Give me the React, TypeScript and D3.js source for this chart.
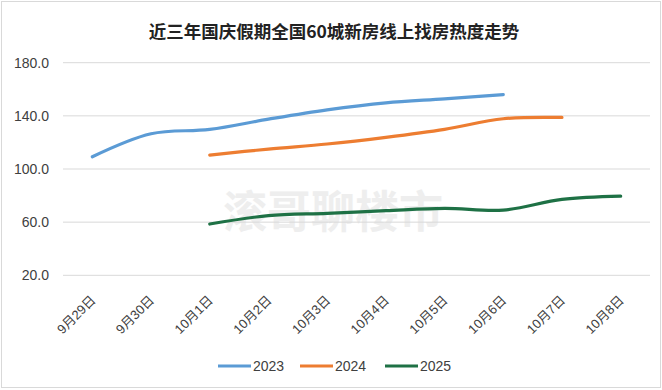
import React from "react";
import * as d3 from "d3";

const title = "近三年国庆假期全国60城新房线上找房热度走势";
const categories = ["9月29日", "9月30日", "10月1日", "10月2日", "10月3日", "10月4日", "10月5日", "10月6日", "10月7日", "10月8日"];
const yTicks = [20, 60, 100, 140, 180];
const seriesNames = ["2023", "2024", "2025"];
const values2023: (number | null)[] = [109.2, 126.5, 129.8, 137.5, 144.5, 149.8, 152.8, 156.0, null, null];
const values2024: (number | null)[] = [null, null, 110.5, 115.0, 118.8, 123.8, 129.8, 137.8, 138.8, null];
const values2025: (number | null)[] = [null, null, 58.6, 64.9, 66.6, 68.6, 70.4, 69.1, 77.1, 79.6];
const colors = ["#5B9BD5", "#ED7D31", "#1E7145"];
const watermark = "滚哥聊楼市";

export default function App() {
  const W = 662, H = 390;
  const x = d3.scaleBand<string>().domain(categories).range([63, 650]);
  const y = d3.scaleLinear().domain([20, 180]).range([275.3, 62.7]);
  const cx = (c: string) => (x(c) as number) + x.bandwidth() / 2;
  const all = [values2023, values2024, values2025];
  const line = d3
    .line<[string, number | null]>()
    .defined((d) => d[1] != null)
    .x((d) => cx(d[0]))
    .y((d) => y(d[1] as number))
    .curve(d3.curveCatmullRom.alpha(0.5));
  const legendX = [218, 300, 385];
  return (
    <svg width={W} height={H} style={{ position: "absolute", left: 0, top: 0, background: "#fff" }}
      fontFamily="'Liberation Sans', 'Noto Sans CJK SC', sans-serif">
      <rect x={1.5} y={1.5} width={W - 3} height={H - 4} fill="#fff" stroke="#d9d9d9" />
      <text x={334} y={38} textAnchor="middle" fontSize={17.5} fontWeight="bold" fill="#222"
        fontFamily="'Noto Sans CJK SC', sans-serif">{title}</text>
      <text x={333} y={228} textAnchor="middle" fontSize={44} fontWeight="bold" fill="#eeeeee"
        letterSpacing={0} fontFamily="'Noto Sans CJK SC', sans-serif">{watermark}</text>
      {yTicks.map((t) => (
        <g key={t}>
          <line x1={63} x2={650} y1={y(t)} y2={y(t)} stroke="#d9d9d9" strokeWidth={1} />
          <text x={49} y={y(t) + 5} textAnchor="end" fontSize={14} fill="#404040">{t.toFixed(1)}</text>
        </g>
      ))}
      {categories.map((c) => (
        <text key={c} transform={`translate(${cx(c) + 4},${301}) rotate(-45)`} textAnchor="end"
          fontSize={13} fill="#404040" fontFamily="'Liberation Sans', 'Noto Sans CJK SC', sans-serif">{c}</text>
      ))}
      {all.map((vals, i) => (
        <path key={i} d={line(categories.map((c, j) => [c, vals[j]])) || ""} fill="none"
          stroke={colors[i]} strokeWidth={3.2} strokeLinecap="round" strokeLinejoin="round" />
      ))}
      {seriesNames.map((s, i) => (
        <g key={s}>
          <line x1={legendX[i]} x2={legendX[i] + 33} y1={366} y2={366} stroke={colors[i]} strokeWidth={3.2} />
          <text x={legendX[i] + 35} y={371} fontSize={14} fill="#404040">{s}</text>
        </g>
      ))}
    </svg>
  );
}
